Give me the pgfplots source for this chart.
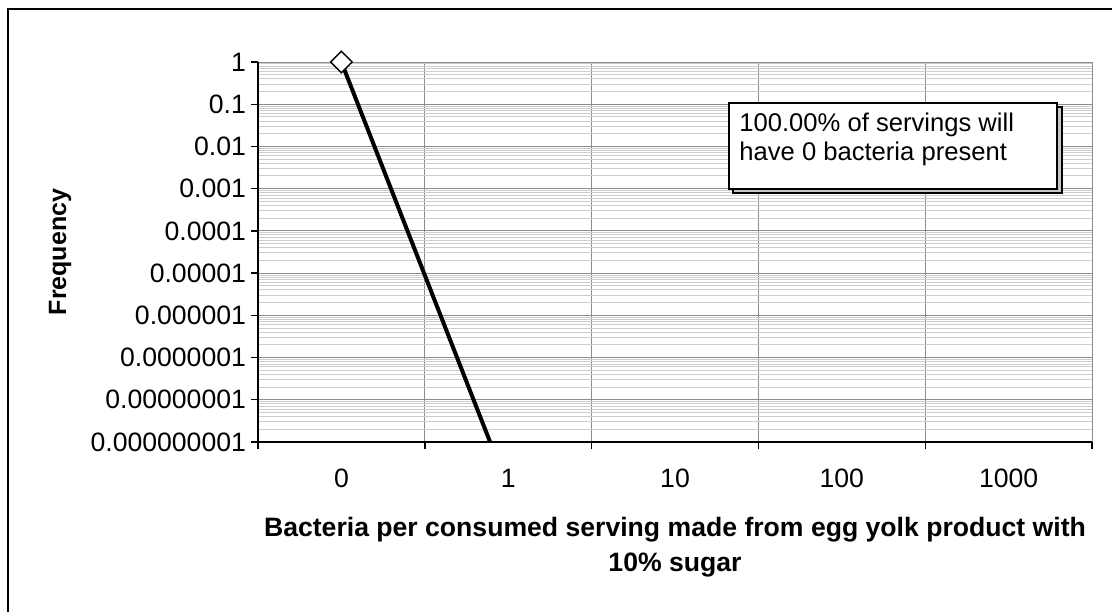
\documentclass[border=0pt]{standalone}
\usepackage{pgfplots}
\pgfplotsset{compat=1.18}
\usepackage{fontspec}
\setmainfont{Liberation Sans}

\definecolor{majgrid}{gray}{0.55}
\definecolor{mingrid}{gray}{0.80}

\begin{document}
\begin{tikzpicture}
\useasboundingbox (0,0) rectangle (556pt,305.5pt);
\clip (0,0) rectangle (556pt,305.5pt);

% chart frame (continues past the right and bottom edge of the page)
\begin{scope}[x=0.5pt,y=-0.5pt,shift={(0pt,305.5pt)}]
  \draw[black,line width=1pt] (7.5,9.5) rectangle (1130,630);
\end{scope}

\begin{axis}[
  at={(129pt,84.5pt)}, anchor=south west,
  scale only axis, width=417pt, height=190pt,
  font=\fontsize{13.3}{16}\selectfont,
  /pgf/number format/assume math mode=true,
  xmin=-0.5, xmax=4.5,
  ymode=log, ymin=1e-9, ymax=1,
  axis x line*=bottom, axis y line*=left,
  axis line style={black, line width=0.9pt, -},
  tick align=outside,
  major tick length=3.5pt, minor tick length=0pt,
  tick style={black, line width=0.7pt},
  xtick={-0.5,0.5,1.5,2.5,3.5,4.5},
  xticklabels={},
  extra x ticks={0,1,2,3,4},
  extra x tick labels={0,1,10,100,1000},
  extra x tick style={major tick length=0pt, grid=none,
    xticklabel style={yshift=-10pt}},
  ytick={1e-9,1e-8,1e-7,1e-6,1e-5,1e-4,1e-3,1e-2,1e-1,1},
  yticklabels={0.000000001,0.00000001,0.0000001,0.000001,0.00001,0.0001,0.001,0.01,0.1,1},
  yticklabel style={xshift=1pt},
  xmajorgrids, ymajorgrids, yminorgrids,
  major grid style={majgrid, line width=0.5pt},
  minor grid style={mingrid, line width=0.5pt},
  xlabel={Bacteria per consumed serving made from egg yolk product with\\10\% sugar},
  ylabel={Frequency},
  every axis x label/.style={at={(axis description cs:0.5,-0.276)}, anchor=center,
    align=center, font=\fontsize{13.3}{17.5}\selectfont\bfseries},
  every axis y label/.style={at={(axis description cs:-0.2374,0.5)}, anchor=center,
    rotate=90, font=\fontsize{12.5}{15}\selectfont\bfseries},
]
\addplot[black, line width=2pt,
  mark=square*, mark size=3.8pt,
  mark options={rotate=45, fill=white, draw=black, line width=0.75pt, solid},
  mark indices={1}]
  coordinates {(0,1) (1,8e-11)};
\end{axis}

% note box with drop shadow
\begin{scope}[x=0.5pt,y=-0.5pt,shift={(0pt,305.5pt)}]
  \draw[black, fill=gray!45, line width=0.7pt] (733,107) rectangle (1062,193);
  \draw[black, fill=white, line width=1pt] (729,103) rectangle (1057,189);
  \node[anchor=base west, inner sep=0pt, font=\fontsize{12.8}{15}\selectfont] at (739,132) {100.00\% of servings will};
  \node[anchor=base west, inner sep=0pt, font=\fontsize{12.8}{15}\selectfont] at (739,161) {have 0 bacteria present};
\end{scope}
\end{tikzpicture}
\end{document}
